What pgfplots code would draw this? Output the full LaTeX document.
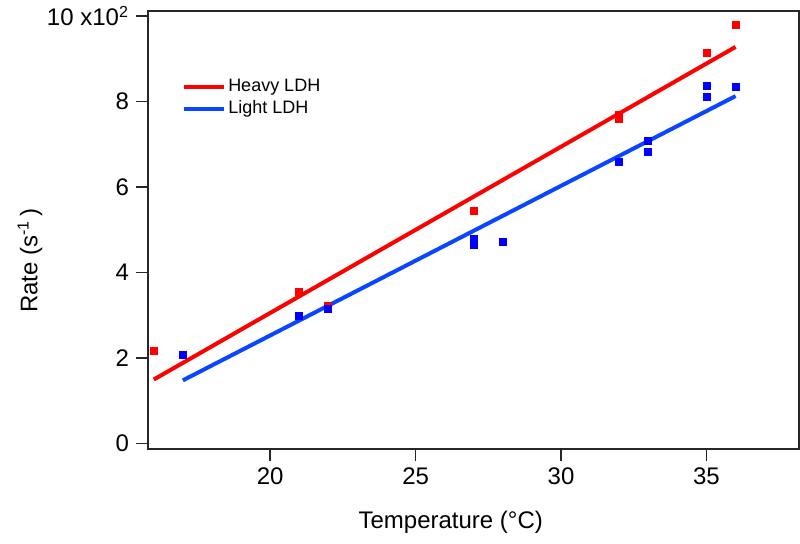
\documentclass[border=0pt]{standalone}
\usepackage{pgfplots}
\pgfplotsset{compat=1.18}
\usepackage{fontspec}
\setmainfont{Liberation Sans}
\definecolor{rd}{RGB}{255,0,0}
\definecolor{bm}{RGB}{0,0,255}
\definecolor{bl}{RGB}{10,70,255}
\begin{document}
\begin{tikzpicture}
\begin{axis}[
  scale only axis,
  width=325.5pt, height=219pt,
  xmin=15.8, xmax=38.18,
  ymin=-0.126, ymax=10.12,
  axis line style={black!85, line width=0.75pt},
  every tick/.style={black!85, line width=0.75pt},
  tick pos=left, tick align=outside,
  major tick length=6pt,
  xtick={20,25,30,35}, xticklabels={20,25,30,35},
  ytick={0,2,4,6,8,10}, yticklabels={0,2,4,6,8,10 x10\textsuperscript{2}},
  ticklabel style={font=\fontsize{12}{14}\selectfont},
  xlabel={Temperature (°C)},
  ylabel={Rate (s\textsuperscript{-1}\,)},
  label style={font=\fontsize{12}{14}\selectfont},
  xlabel style={at={(rel axis cs:0.465,0)}, anchor=center, yshift=-36.7pt},
  ylabel style={at={(rel axis cs:0,0.43)}, anchor=center, yshift=59pt, rotate=0},
  legend style={draw=none, fill=none, at={(rel axis cs:0.052,0.85)}, anchor=north west,
    inner sep=0pt, row sep=1.2pt, font=\fontsize{9}{10}\selectfont,
    nodes={inner sep=1pt}},
  legend cell align=left,
  legend image code/.code={\draw[#1] (0pt,0pt) -- (16pt,0pt); \path (0pt,0pt) -- (20pt,0pt);},
]
\coordinate (sw) at (rel axis cs:0,0);
\coordinate (ne) at (rel axis cs:1,1);
\addplot[rd, line width=2pt] coordinates {(16,1.50) (36,9.28)};
\addlegendentry{Heavy LDH}
\addplot[bl, line width=2pt] coordinates {(17,1.48) (36,8.13)};
\addlegendentry{Light LDH}
\addplot[only marks, mark=square*, mark size=1.75pt, mark options={draw=rd, fill=rd}, forget plot] coordinates {
(16,2.18) (21,3.56) (22,3.22) (27,5.44) (32,7.70) (32,7.60) (35,9.14) (36,9.79)};
\addplot[only marks, mark=square*, mark size=1.75pt, mark options={draw=bm, fill=bm}, forget plot] coordinates {
(17,2.07) (21,2.98) (22,3.14) (27,4.79) (27,4.64) (28,4.73) (32,6.59) (33,7.09) (33,6.82) (35,8.36) (35,8.11) (36,8.34)};
\end{axis}
\pgfresetboundingbox
\path ([shift={(-74pt,-47pt)}]sw) rectangle ([shift={(0.5pt,5.5pt)}]ne);
\end{tikzpicture}
\end{document}
